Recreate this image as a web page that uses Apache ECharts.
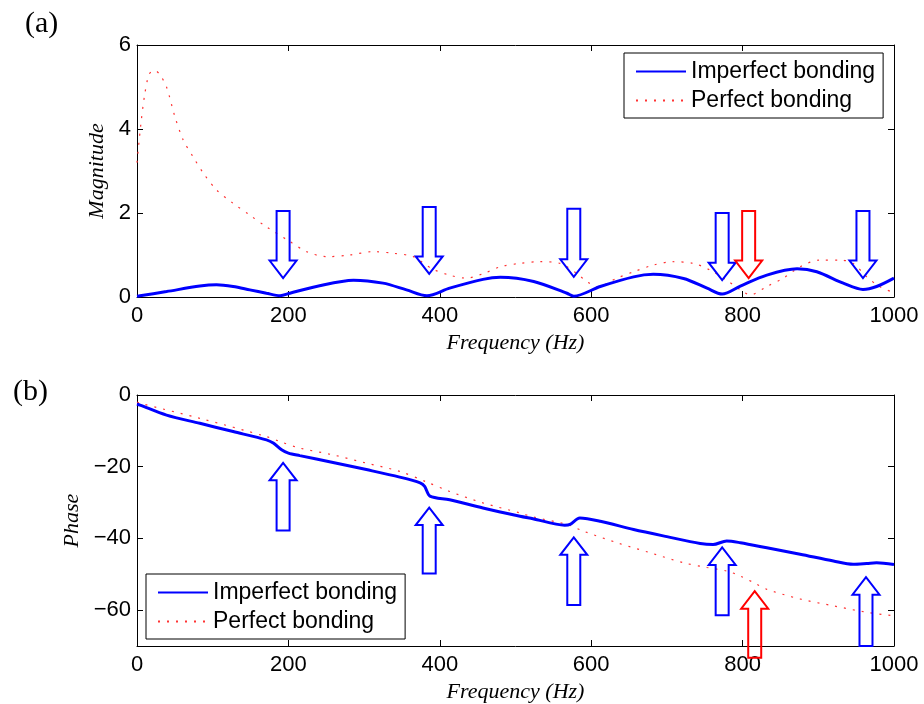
<!DOCTYPE html>
<html>
<head>
<meta charset="utf-8">
<script src="https://cdn.jsdelivr.net/npm/echarts@6/dist/echarts.min.js"></script>
<style>
  html, body { margin: 0; padding: 0; background: #fff; }
  #chart { width: 924px; height: 704px; }
</style>
</head>
<body>
<div id="chart"></div>
<script>
// frequency ticks and axis ticks
const freqTicks = [0, 200, 400, 600, 800, 1000];
const magTicks = [0, 2, 4, 6];
const phaseTicks = [-60, -40, -20, 0];

// (a) magnitude, [Hz, value]
const magImperfect = [
  [0, 0.02], [4, 0.03], [39, 0.13], [83, 0.26], [105, 0.29], [127, 0.25], [149, 0.17],
  [171, 0.09], [189, 0.03], [202, 0.09], [237, 0.25], [286, 0.40], [325, 0.33],
  [356, 0.17], [383, 0.03], [413, 0.21], [457, 0.42], [480, 0.47], [524, 0.37],
  [568, 0.09], [577, 0.02], [612, 0.25], [656, 0.48], [682, 0.54], [722, 0.44],
  [753, 0.21], [773, 0.07], [797, 0.26], [832, 0.52], [872, 0.67], [898, 0.60],
  [933, 0.33], [959, 0.18], [977, 0.25], [1000, 0.45]
];
const magPerfect = [
  [0, 3.2], [5, 4.1], [10, 4.8], [16, 5.3], [23, 5.4], [30, 5.3], [39, 5.0], [50, 4.3],
  [61, 3.74], [74, 3.34], [88, 2.94], [105, 2.55], [127, 2.23], [149, 1.95], [171, 1.67],
  [202, 1.32], [224, 1.08], [251, 0.96], [281, 1.0], [312, 1.08], [339, 1.04], [365, 0.96],
  [389, 0.68], [413, 0.52], [435, 0.45], [458, 0.56], [480, 0.72], [506, 0.80], [532, 0.84],
  [559, 0.80], [581, 0.56], [594, 0.37], [608, 0.24], [634, 0.45], [656, 0.60], [682, 0.76],
  [708, 0.84], [735, 0.80], [757, 0.64], [779, 0.40], [797, 0.17], [810, 0.05], [832, 0.25],
  [854, 0.45], [876, 0.72], [902, 0.88], [929, 0.88], [946, 0.80], [964, 0.48], [981, 0.25],
  [1000, 0.1]
];

// (b) phase, [Hz, value]
const phaseImperfect = [
  [0, -2.5], [4, -2.8], [39, -5.6], [83, -7.9], [127, -10.2], [171, -12.5], [180, -13.4],
  [191, -15.3], [200, -16.2], [215, -16.9], [259, -18.8], [303, -20.8], [347, -22.9],
  [374, -24.5], [380, -25.5], [387, -28.2], [413, -29.2], [457, -31.5], [506, -33.8],
  [523, -34.5], [565, -36.3], [572, -36.1], [585, -34.3], [612, -35.2], [656, -37.5],
  [700, -39.5], [744, -41.4], [761, -41.7], [779, -40.7], [797, -41.2], [832, -42.6],
  [876, -44.4], [920, -46.3], [946, -47.2], [964, -47.0], [977, -46.8], [1000, -47.3]
];
const phasePerfect = [
  [0, -2.0], [4, -2.3], [83, -6.5], [171, -11.6], [189, -13.0], [215, -14.8], [259, -16.7],
  [303, -19.0], [347, -21.3], [382, -24.2], [413, -26.9], [457, -30.1], [506, -32.9],
  [523, -34.0], [568, -36.1], [590, -38.0], [634, -41.2], [678, -44.0], [722, -46.8],
  [753, -48.1], [779, -49.1], [797, -50.5], [819, -52.8], [832, -54.2], [876, -56.9],
  [920, -58.8], [964, -60.6], [1000, -61.6]
];

// arrows: [Hz, tail value, tip value]
const magArrowsBlue = [[193, 2.05, 0.45], [386, 2.14, 0.55], [577, 2.1, 0.48], [773, 2.0, 0.40], [959, 2.05, 0.45]];
const magArrowsRed = [[808, 2.05, 0.45]];
const phaseArrowsBlue = [[193, -37.8, -18.9], [386, -49.8, -31.4], [577, -58.6, -39.7], [773, -61.4, -42.5], [963, -70, -50.8]];
const phaseArrowsRed = [[816, -73.3, -54.7]];

const chart = echarts.init(document.getElementById('chart'));

const sans = 'Liberation Sans, Arial, sans-serif';
const serif = 'Liberation Serif, Times New Roman, serif';
const fmtMinus = v => String(v).replace('-', '\u2212');

function renderArrow(params, api) {
  const a = api.coord([api.value(0), api.value(1)]);
  const b = api.coord([api.value(0), api.value(2)]);
  const dir = b[1] > a[1] ? 1 : -1;
  const hs = 6.5, hh = 13.5, hl = 17.5;
  const x = a[0];
  const neck = b[1] - dir * hl;
  return {
    type: 'polygon',
    shape: { points: [[x - hs, a[1]], [x + hs, a[1]], [x + hs, neck], [x + hh, neck], [x, b[1]], [x - hh, neck], [x - hs, neck]] },
    style: { fill: 'none', stroke: api.visual('color'), lineWidth: 2 }
  };
}

function xAxisPair(gridIndex) {
  const base = {
    gridIndex: gridIndex, type: 'value', min: 0, max: 1000, interval: 200,
    splitLine: { show: false },
    axisLine: { show: true, onZero: false, lineStyle: { color: '#000', width: 1 } },
    axisTick: { show: true, inside: true, length: 6, lineStyle: { color: '#000' } }
  };
  return [
    Object.assign({}, base, {
      position: 'bottom',
      name: 'Frequency (Hz)', nameLocation: 'middle', nameGap: 35,
      nameTextStyle: { fontFamily: serif, fontStyle: 'italic', fontSize: 22, color: '#000' },
      axisLabel: { show: true, margin: 8, fontFamily: sans, fontSize: 22, color: '#000',
        customValues: freqTicks, formatter: v => String(v) }
    }),
    Object.assign({}, base, { position: 'top', axisLabel: { show: false } })
  ];
}

function yAxisPair(gridIndex, min, max, ticks, name, gap) {
  const base = {
    gridIndex: gridIndex, type: 'value', min: min, max: max,
    splitLine: { show: false },
    axisLine: { show: true, onZero: false, lineStyle: { color: '#000', width: 1 } },
    axisTick: { show: true, inside: true, length: 6, customValues: ticks, lineStyle: { color: '#000' } }
  };
  return [
    Object.assign({}, base, {
      position: 'left',
      name: name, nameLocation: 'middle', nameGap: gap, nameRotate: 90,
      nameTextStyle: { fontFamily: serif, fontStyle: 'italic', fontSize: 22, color: '#000' },
      axisLabel: { show: true, margin: 6, fontFamily: sans, fontSize: 22, color: '#000',
        customValues: ticks, formatter: fmtMinus }
    }),
    Object.assign({}, base, { position: 'right', axisLabel: { show: false } })
  ];
}

function legendAt(left, top) {
  return {
    data: ['Imperfect bonding', 'Perfect bonding'],
    orient: 'vertical', left: left, top: top,
    itemWidth: 50, itemHeight: 14, itemGap: 6,
    padding: [7, 8, 6, 11],
    borderColor: '#000', borderWidth: 1, backgroundColor: '#fff',
    selectedMode: false,
    itemStyle: { opacity: 0 },
    textStyle: { fontFamily: sans, fontSize: 23, color: '#000' }
  };
}

chart.setOption({
  animation: false,
  backgroundColor: '#fff',
  title: [
    { text: '(a)', left: 20, top: 4, textStyle: { fontFamily: serif, fontSize: 30, fontWeight: 'normal', color: '#000' } },
    { text: '(b)', left: 8, top: 372, textStyle: { fontFamily: serif, fontSize: 30, fontWeight: 'normal', color: '#000' } }
  ],
  grid: [
    { left: 137, top: 45, width: 757, height: 252 },
    { left: 137, top: 395, width: 757, height: 252 }
  ],
  xAxis: xAxisPair(0).concat(xAxisPair(1)),
  yAxis: yAxisPair(0, 0, 6, magTicks, 'Magnitude', 28).concat(yAxisPair(1, -70, 0, phaseTicks, 'Phase', 45)),
  legend: [legendAt(624, 53), legendAt(146, 574)],
  series: [
    { name: 'Perfect bonding', type: 'line', xAxisIndex: 0, yAxisIndex: 0, data: magPerfect,
      smooth: 0.3, showSymbol: false, symbol: 'none', color: '#ff0000',
      lineStyle: { color: '#ff3333', width: 1.2, type: [2, 7] } },
    { name: 'Imperfect bonding', type: 'line', xAxisIndex: 0, yAxisIndex: 0, data: magImperfect,
      smooth: 0.3, showSymbol: false, symbol: 'none', color: '#0000ff',
      lineStyle: { color: '#0000ff', width: 3 } },
    { name: 'Perfect bonding', type: 'line', xAxisIndex: 2, yAxisIndex: 2, data: phasePerfect,
      smooth: 0.3, showSymbol: false, symbol: 'none', color: '#ff0000',
      lineStyle: { color: '#ff3333', width: 1.2, type: [2, 7] } },
    { name: 'Imperfect bonding', type: 'line', xAxisIndex: 2, yAxisIndex: 2, data: phaseImperfect,
      smooth: 0.3, showSymbol: false, symbol: 'none', color: '#0000ff',
      lineStyle: { color: '#0000ff', width: 3 } },
    { type: 'custom', xAxisIndex: 0, yAxisIndex: 0, data: magArrowsBlue, color: '#0000ff',
      encode: { x: 0, y: [1, 2] }, renderItem: renderArrow, clip: false, z: 5 },
    { type: 'custom', xAxisIndex: 0, yAxisIndex: 0, data: magArrowsRed, color: '#ff0000',
      encode: { x: 0, y: [1, 2] }, renderItem: renderArrow, clip: false, z: 5 },
    { type: 'custom', xAxisIndex: 2, yAxisIndex: 2, data: phaseArrowsBlue, color: '#0000ff',
      encode: { x: 0, y: [1, 2] }, renderItem: renderArrow, clip: false, z: 5 },
    { type: 'custom', xAxisIndex: 2, yAxisIndex: 2, data: phaseArrowsRed, color: '#ff0000',
      encode: { x: 0, y: [1, 2] }, renderItem: renderArrow, clip: false, z: 5 }
  ]
});
</script>
</body>
</html>
